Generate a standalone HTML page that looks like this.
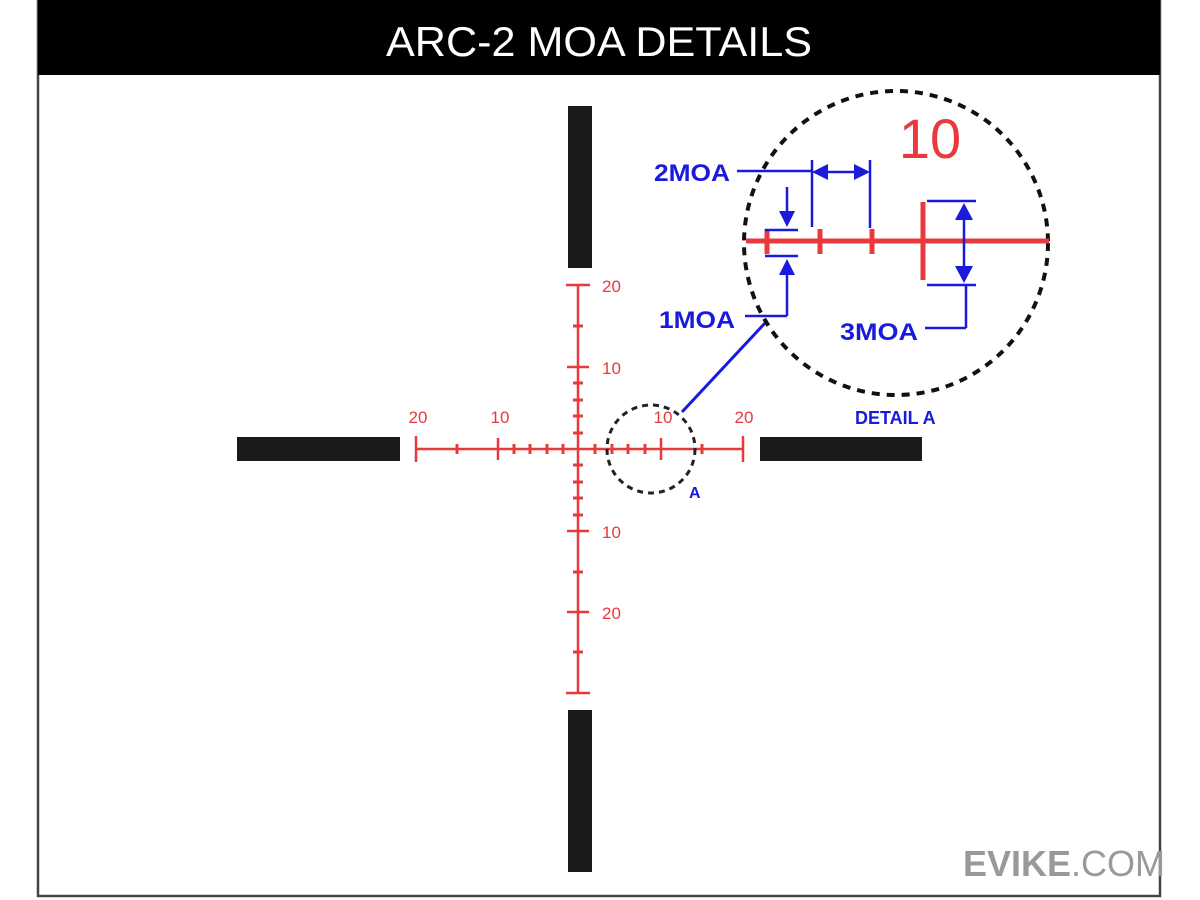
<!DOCTYPE html>
<html><head><meta charset="utf-8"><style>
html,body{margin:0;padding:0;background:#fff;width:1200px;height:900px;overflow:hidden}
svg{display:block}
text{font-family:"Liberation Sans",Arial,sans-serif}
</style></head><body>
<svg width="1200" height="900" viewBox="0 0 1200 900">
<rect x="0" y="0" width="1200" height="900" fill="#fff"/>
<rect x="38" y="1" width="1122" height="895" fill="none" stroke="#444" stroke-width="2.5"/>
<rect x="38" y="0" width="1122" height="75" fill="#000"/>
<text x="599" y="56" font-size="42" fill="#fff" text-anchor="middle" textLength="426" lengthAdjust="spacingAndGlyphs">ARC-2 MOA DETAILS</text>

<!-- black bars -->
<rect x="568" y="106" width="24" height="162" fill="#1a1a1a"/>
<rect x="568" y="710" width="24" height="162" fill="#1a1a1a"/>
<rect x="237" y="437" width="163" height="24" fill="#1a1a1a"/>
<rect x="760" y="437" width="162" height="24" fill="#1a1a1a"/>

<!-- red reticle -->
<g stroke="#e8393d" stroke-width="2.5" fill="none">
<line x1="416" y1="449" x2="743" y2="449"/>
<line x1="578" y1="285" x2="578" y2="693"/>
<line x1="416" y1="436" x2="416" y2="462"/>
<line x1="743" y1="436" x2="743" y2="462"/>
<line x1="498" y1="438" x2="498" y2="460"/>
<line x1="661" y1="438" x2="661" y2="460"/>
<g stroke-width="3">
<line x1="457" y1="444" x2="457" y2="454"/>
<line x1="514" y1="444" x2="514" y2="454"/>
<line x1="530" y1="444" x2="530" y2="454"/>
<line x1="547" y1="444" x2="547" y2="454"/>
<line x1="563" y1="444" x2="563" y2="454"/>
<line x1="595" y1="444" x2="595" y2="454"/>
<line x1="612" y1="444" x2="612" y2="454"/>
<line x1="628" y1="444" x2="628" y2="454"/>
<line x1="645" y1="444" x2="645" y2="454"/>
<line x1="702" y1="444" x2="702" y2="454"/>
<line x1="573" y1="326" x2="583" y2="326"/>
<line x1="573" y1="383" x2="583" y2="383"/>
<line x1="573" y1="400" x2="583" y2="400"/>
<line x1="573" y1="416" x2="583" y2="416"/>
<line x1="573" y1="433" x2="583" y2="433"/>
<line x1="573" y1="465" x2="583" y2="465"/>
<line x1="573" y1="482" x2="583" y2="482"/>
<line x1="573" y1="498" x2="583" y2="498"/>
<line x1="573" y1="515" x2="583" y2="515"/>
<line x1="573" y1="572" x2="583" y2="572"/>
<line x1="573" y1="652" x2="583" y2="652"/>
</g>
<line x1="566" y1="285" x2="590" y2="285"/>
<line x1="567" y1="367" x2="589" y2="367"/>
<line x1="567" y1="531" x2="589" y2="531"/>
<line x1="567" y1="612" x2="589" y2="612"/>
<line x1="566" y1="693" x2="590" y2="693"/>
</g>
<g fill="#e8393d" font-size="17">
<text x="418" y="423" text-anchor="middle">20</text>
<text x="500" y="423" text-anchor="middle">10</text>
<text x="663" y="423" text-anchor="middle">10</text>
<text x="744" y="423" text-anchor="middle">20</text>
<text x="602" y="292">20</text>
<text x="602" y="374">10</text>
<text x="602" y="538">10</text>
<text x="602" y="619">20</text>
</g>

<circle cx="651" cy="449" r="44" fill="none" stroke="#222" stroke-width="3" stroke-dasharray="6,5"/>
<text x="689" y="498" font-size="16" font-weight="bold" fill="#1a1adc">A</text>
<line x1="682" y1="412" x2="766" y2="322" stroke="#1a1adc" stroke-width="3"/>

<circle cx="896" cy="243" r="152" fill="none" stroke="#111" stroke-width="4" stroke-dasharray="8,7"/>
<text x="930" y="158" font-size="56" fill="#e8393d" text-anchor="middle">10</text>
<g stroke="#e8393d" fill="none">
<line x1="746" y1="241" x2="1049" y2="241" stroke-width="5"/>
<line x1="767" y1="229" x2="767" y2="254" stroke-width="5"/>
<line x1="820" y1="229" x2="820" y2="254" stroke-width="5"/>
<line x1="872" y1="229" x2="872" y2="254" stroke-width="5"/>
<line x1="923" y1="202" x2="923" y2="280" stroke-width="5"/>
</g>

<g stroke="#1a1adc" stroke-width="2.5" fill="none">
<line x1="737" y1="171" x2="812" y2="171"/>
<line x1="812" y1="160" x2="812" y2="227"/>
<line x1="870" y1="160" x2="870" y2="228"/>
<line x1="822" y1="172" x2="860" y2="172"/>
<line x1="765" y1="230" x2="798" y2="230"/>
<line x1="765" y1="256" x2="798" y2="256"/>
<line x1="787" y1="187" x2="787" y2="215"/>
<line x1="787" y1="272" x2="787" y2="316"/>
<line x1="787" y1="316" x2="745" y2="316"/>
<line x1="927" y1="201" x2="976" y2="201"/>
<line x1="927" y1="285" x2="976" y2="285"/>
<line x1="964" y1="215" x2="964" y2="270"/>
<line x1="966" y1="285" x2="966" y2="328"/>
<line x1="966" y1="328" x2="925" y2="328"/>
</g>
<g fill="#1a1adc">
<polygon points="812,172 828,164 828,180"/>
<polygon points="870,172 854,164 854,180"/>
<polygon points="787,227 779,211 795,211"/>
<polygon points="787,259 779,275 795,275"/>
<polygon points="964,203 955,220 973,220"/>
<polygon points="964,283 955,266 973,266"/>
</g>
<g fill="#1a1adc" font-size="24" font-weight="bold">
<text x="654" y="181" textLength="76" lengthAdjust="spacingAndGlyphs">2MOA</text>
<text x="659" y="328" textLength="76" lengthAdjust="spacingAndGlyphs">1MOA</text>
<text x="840" y="340" textLength="78" lengthAdjust="spacingAndGlyphs">3MOA</text>
</g>
<text x="855" y="424" font-size="18" font-weight="bold" fill="#1a1adc">DETAIL A</text>

<text x="963" y="876" font-size="36" fill="#999"><tspan font-weight="bold">EVIKE</tspan>.COM</text>
</svg>
</body></html>
